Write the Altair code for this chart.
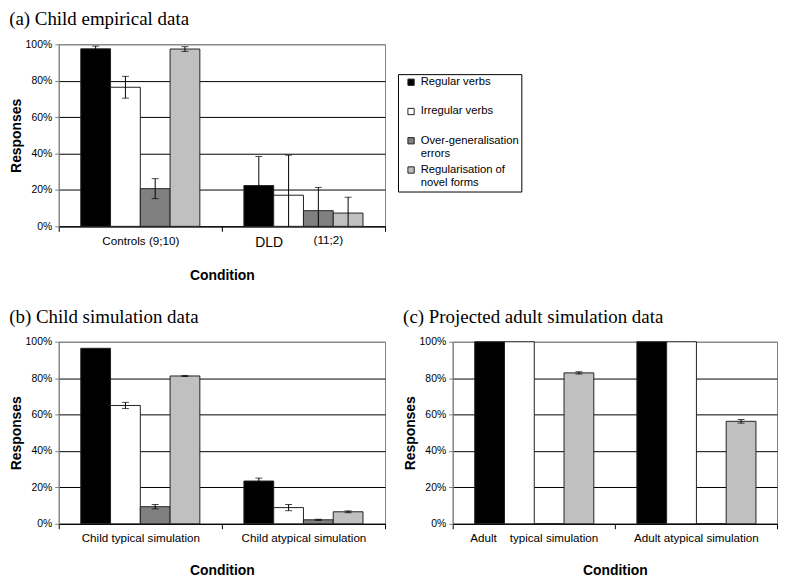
import altair as alt
import pandas as pd

# ---------------- data ----------------
types = ["Regular verbs", "Irregular verbs", "Over-generalisation errors", "Regularisation of novel forms"]
fills = ["#000000", "#ffffff", "#808080", "#c0c0c0"]

cond_a = ["Controls (9;10)", "DLD"]
a_controls = [97.5, 76.4, 20.7, 97.4]
a_controls_err = [1.5, 6.0, 5.5, 1.3]
a_dld = [22.4, 17.1, 8.6, 7.3]
a_dld_err = [16.0, 22.0, 12.8, 8.7]
a_note = ["(11;2)"]

cond_b = ["Child typical simulation", "Child atypical simulation"]
b_typical = [96.4, 65.0, 9.4, 81.2]
b_typical_err = [0.0, 1.7, 1.2, 0.3]
b_atypical = [23.5, 8.9, 2.2, 6.6]
b_atypical_err = [1.6, 1.7, 0.3, 0.5]

cond_c = ["Adult\u00a0\u00a0\u00a0\u00a0typical simulation", "Adult atypical simulation"]
c_typical = [100.0, 100.0, 0.0, 82.9]
c_typical_err = [0.0, 0.0, 0.0, 0.6]
c_atypical = [100.0, 100.0, 0.0, 56.3]
c_atypical_err = [0.0, 0.0, 0.0, 1.0]

y_ticks = [0, 20, 40, 60, 80, 100]

titles = ["(a) Child empirical data", "(b) Child simulation data", "(c) Projected adult simulation data"]

SANS = "Liberation Sans"
SERIF = "Liberation Serif"


def frame(conds, vals, errs):
    rows = []
    for c, v, e in zip(conds, vals, errs):
        for t, vv, ee in zip(types, v, e):
            rows.append({"Condition": c, "Type": t, "value": vv, "err": ee})
    return pd.DataFrame(rows)


def panel(df, conds, title, w, h, legend=None, big_label=None, note=None):
    label_size = 11.7
    label_offset = 0
    if big_label is not None:
        label_size = {"condition": {"test": f"datum.value === '{big_label}'", "value": 14}, "value": 11.7}
        label_offset = {"condition": {"test": f"datum.value === '{big_label}'", "value": -35}, "value": 0}
    xaxis = alt.Axis(
        title="Condition", labelAngle=0, tickBand="extent", ticks=True, tickSize=5,
        tickColor="#000", domainColor="#000", labelPadding=4, labelFont=SANS,
        labelFontSize=label_size, labelOffset=label_offset, labelColor="#000",
        labelOverlap=False, grid=False, titleFont=SANS, titleFontSize=14,
        titleFontWeight="bold", titleColor="#000", titlePadding=19,
    )
    x = alt.X("Condition:N", sort=conds, scale=alt.Scale(paddingInner=0, paddingOuter=0), axis=xaxis)
    xo = alt.XOffset("Type:N", sort=types, scale=alt.Scale(domain=types, paddingInner=0, paddingOuter=0.74))
    yaxis = alt.Axis(
        values=y_ticks, labelExpr="datum.value + '%'", grid=True,
        gridColor={"condition": {"test": "datum.value === 100", "value": "#808080"}, "value": "#000"},
        gridWidth=1, domainColor="#808080", tickColor="#808080", tickSize=4, labelPadding=3,
        labelFont=SANS, labelFontSize=10.5, labelColor="#000", title="Responses",
        titleFont=SANS, titleFontSize=14, titleFontWeight="bold", titleColor="#000", titlePadding=2,
    )
    yscale = alt.Scale(domain=[0, 100], nice=False)
    base = alt.Chart(df)
    bars = base.mark_bar(stroke="#222", strokeWidth=1).encode(
        x=x, xOffset=xo,
        y=alt.Y("value:Q", scale=yscale, axis=yaxis),
        color=alt.Color("Type:N", sort=types, scale=alt.Scale(domain=types, range=fills), legend=legend),
    )
    eb = base.transform_filter("datum.err > 0").transform_calculate(
        lo="max(0, datum.value - datum.err)", hi="datum.value + datum.err"
    )
    rules = eb.mark_rule(color="#000", strokeWidth=1).encode(
        x=x, xOffset=xo, y=alt.Y("lo:Q", scale=yscale, axis=yaxis), y2="hi:Q"
    )
    caps_hi = eb.mark_tick(orient="horizontal", size=7, thickness=1, color="#000").encode(
        x=x, xOffset=xo, y=alt.Y("hi:Q", scale=yscale, axis=yaxis)
    )
    caps_lo = eb.transform_filter("datum.value - datum.err >= 0").mark_tick(
        orient="horizontal", size=7, thickness=1, color="#000"
    ).encode(x=x, xOffset=xo, y=alt.Y("lo:Q", scale=yscale, axis=yaxis))
    layers = [bars, rules, caps_hi, caps_lo]
    if note is not None:
        ndf = pd.DataFrame({"Condition": [big_label], "label": note})
        txt = alt.Chart(ndf).mark_text(baseline="top", dx=25, dy=9, fontSize=11.7, font=SANS, color="#000").encode(
            x=x, y=alt.value(h), text="label:N"
        )
        layers.append(txt)
    return alt.layer(*layers).properties(
        width=w, height=h,
        title=alt.TitleParams(title, anchor="start", font=SERIF, fontSize=19, fontWeight="normal",
                              color="#000", offset=10),
    )


legend_a = alt.Legend(
    title=None, orient="none", legendX=341, legendY=30,
    symbolType="square", symbolSize=40, symbolOffset=5,
    symbolStrokeColor="#222", symbolStrokeWidth=1, labelFont=SANS, labelFontSize=11.3, labelColor="#000",
    strokeColor="#000", fillColor="#fff", padding=2.5, rowPadding=3.4, labelOffset=4,
    labelExpr="datum.label == 'Over-generalisation errors' ? ['Over-generalisation\u00a0\u00a0', 'errors'] : "
              "datum.label == 'Regularisation of novel forms' ? ['Regularisation of', 'novel forms'] : "
              "[datum.label, ' ']",
)

pa = panel(frame(cond_a, [a_controls, a_dld], [a_controls_err, a_dld_err]), cond_a, titles[0], 328, 183,
           legend=legend_a, big_label="DLD", note=a_note)
pb = panel(frame(cond_b, [b_typical, b_atypical], [b_typical_err, b_atypical_err]), cond_b, titles[1], 328, 183)
pc = panel(frame(cond_c, [c_typical, c_atypical], [c_typical_err, c_atypical_err]), cond_c, titles[2], 326, 183)

chart = alt.vconcat(
    pa, alt.hconcat(pb, pc, spacing=16), spacing=24
).resolve_scale(color="independent").properties(
    padding={"left": 0, "top": 0, "right": 0, "bottom": 0}
).configure_view(stroke="#808080", strokeWidth=1)

chart.save("out.html", embed_options={"renderer": "svg", "actions": False})
